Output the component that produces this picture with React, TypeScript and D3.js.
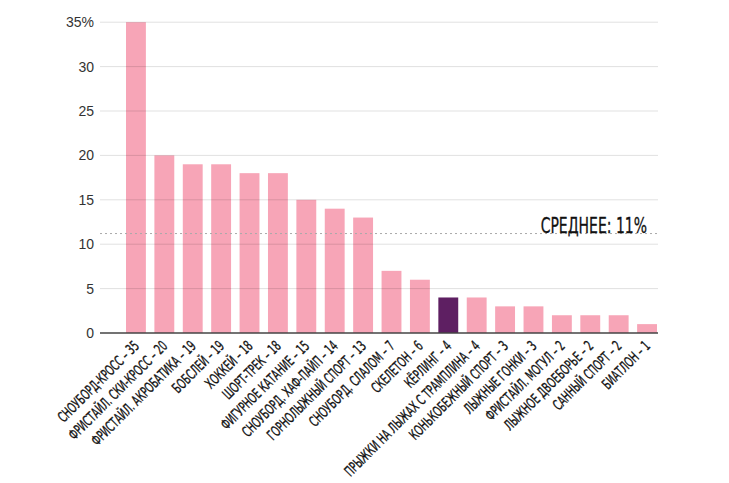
import React from "react";
import * as d3 from "d3";

const categories = [
  "СНОУБОРД-КРОСС",
  "ФРИСТАЙЛ. СКИ-КРОСС",
  "ФРИСТАЙЛ. АКРОБАТИКА",
  "БОБСЛЕЙ",
  "ХОККЕЙ",
  "ШОРТ-ТРЕК",
  "ФИГУРНОЕ КАТАНИЕ",
  "СНОУБОРД. ХАФ-ПАЙП",
  "ГОРНОЛЫЖНЫЙ СПОРТ",
  "СНОУБОРД. СЛАЛОМ",
  "СКЕЛЕТОН",
  "КЁРЛИНГ",
  "ПРЫЖКИ НА ЛЫЖАХ С ТРАМПЛИНА",
  "КОНЬКОБЕЖНЫЙ СПОРТ",
  "ЛЫЖНЫЕ ГОНКИ",
  "ФРИСТАЙЛ. МОГУЛ",
  "ЛЫЖНОЕ ДВОЕБОРЬЕ",
  "САННЫЙ СПОРТ",
  "БИАТЛОН",
];
const values = [35, 20, 19, 19, 18, 18, 15, 14, 13, 7, 6, 4, 4, 3, 3, 2, 2, 2, 1];
const highlighted = ["КЁРЛИНГ"];
const yTicks = [0, 5, 10, 15, 20, 25, 30, 35];
const averageValue = 11.2;
const averageLabel = "СРЕДНЕЕ: 11%";

const W = 729;
const H = 483;
const gridLeft = 100;
const gridRight = 658;
const condensed = "'DejaVu Sans Condensed', 'DejaVu Sans', sans-serif";

export default function App() {
  const x = d3.scaleBand<string>().domain(categories).range([126, 657]).paddingInner(0.3).paddingOuter(0);
  const y = d3.scaleLinear().domain([0, 35]).range([333, 22.2]);

  return (
    <svg width={W} height={H} style={{ position: "absolute", left: 0, top: 0, background: "#fff" }}>
      {categories.map((c, i) => (
        <rect
          key={c}
          x={x(c)}
          y={y(values[i])}
          width={x.bandwidth()}
          height={y(0) - y(values[i])}
          fill={highlighted.includes(c) ? "#5e1f62" : "#f7a5b7"}
        />
      ))}
      {yTicks.filter((t) => t !== 0).map((t) => (
        <line key={t} x1={gridLeft} x2={gridRight} y1={y(t)} y2={y(t)} stroke="rgba(0,0,0,0.12)" strokeWidth={1} />
      ))}
      {yTicks.map((t) => (
        <text
          key={"l" + t}
          x={94}
          y={y(t)}
          dy="0.35em"
          textAnchor="end"
          fontFamily="'Liberation Sans', Arial, sans-serif"
          fontSize={14}
          fill="#333"
        >
          {t === 35 ? t + "%" : t}
        </text>
      ))}
      <line
        x1={gridLeft}
        x2={gridRight}
        y1={y(averageValue)}
        y2={y(averageValue)}
        stroke="#aaa"
        strokeWidth={1}
        strokeDasharray="2,3"
      />
      <text
        transform={`translate(647,${y(averageValue) - 1}) scale(0.74,1)`}
        textAnchor="end"
        fontFamily={condensed}
        fontSize={21}
        stroke="#111"
        strokeWidth={0.3}
        fill="#111"
      >
        {averageLabel}
      </text>
      <line x1={gridLeft} x2={gridRight} y1={y(0)} y2={y(0)} stroke="#444" strokeWidth={1.5} />
      {categories.map((c, i) => {
        const cx = (x(c) as number) + x.bandwidth() / 2 + 4;
        const cy = 347;
        return (
          <text
            key={"x" + c}
            transform={`translate(${cx},${cy}) rotate(-45) scale(0.69,1)`}
            textAnchor="end"
            fontFamily={condensed}
            fontSize={14.5}
            stroke="#111"
            strokeWidth={0.35}
            fill="#111"
          >
            {c + " – " + values[i]}
          </text>
        );
      })}
    </svg>
  );
}
